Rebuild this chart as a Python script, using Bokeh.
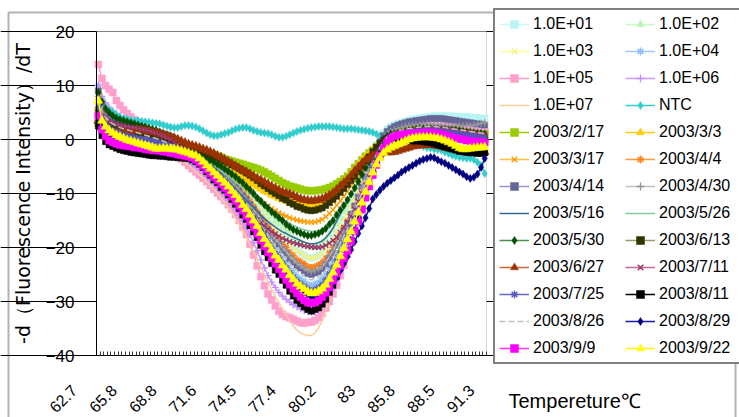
import math
from bokeh.plotting import figure
from bokeh.models import (ColumnDataSource, Legend, LegendItem, FixedTicker, LinearAxis,
                          Label, BoxAnnotation, Range1d)
from bokeh.embed import file_html
from bokeh.resources import INLINE

# ---------------- data ----------------
tick_labels = ["62.7", "65.8", "68.8", "71.6", "74.5", "77.4", "80.2", "83", "85.8", "88.5", "91.3"]
y_ticks = [-40, -30, -20, -10, 0, 10, 20]

e01 = [9.0, 7.2, 6.0, 5.2, 4.6, 4.1, 3.7, 3.4, 3.1, 2.9,
       2.7, 2.5, 2.3, 2.1, 1.9, 1.7, 1.4, 1.1, 0.8, 0.5,
       0.1, -0.3, -0.7, -1.1, -1.5, -1.9, -2.1, -2.3, -2.7, -3.1,
       -3.7, -4.1, -4.7, -5.1, -5.7, -6.1, -6.7, -7.3, -7.9, -8.5,
       -9.3, -9.9, -10.7, -11.5, -12.4, -13.4, -14.2, -15.0, -15.8, -16.6,
       -17.2, -18.0, -18.6, -19.4, -20.0, -20.6, -21.0, -21.4, -21.8, -22.0,
       -21.8, -21.5, -21.0, -20.3, -19.3, -18.3, -17.1, -15.9, -14.7, -13.4,
       -12.0, -10.5, -9.0, -7.3, -5.6, -4.1, -2.4, -0.9, 0.3, 1.3,
       2.0, 2.5, 2.8, 3.0, 3.2, 3.4, 3.6, 3.8, 3.9, 4.0,
       4.1, 4.2, 4.3, 4.4, 4.4, 4.4, 4.4, 4.4, 4.4, 4.3,
       4.3, 4.3, 4.2, 4.2, 4.1, 4.1, 4.0, 4.0]
e02 = [9.5, 7.5, 6.2, 5.3, 4.7, 4.2, 3.8, 3.5, 3.2, 3.0,
       2.8, 2.6, 2.4, 2.2, 2.0, 1.8, 1.5, 1.2, 0.9, 0.6,
       0.3, -0.1, -0.5, -0.9, -1.3, -1.7, -1.9, -2.1, -2.4, -2.8,
       -3.3, -3.7, -4.3, -4.6, -5.2, -5.5, -6.1, -6.6, -7.2, -7.7,
       -8.5, -9.0, -9.8, -10.5, -11.2, -12.1, -12.9, -13.6, -14.3, -15.1,
       -15.6, -16.3, -16.9, -17.6, -18.2, -18.7, -19.1, -19.5, -19.8, -20.0,
       -19.8, -19.6, -19.1, -18.5, -17.6, -16.7, -15.6, -14.5, -13.4, -12.3,
       -11.0, -9.7, -8.3, -6.8, -5.3, -3.9, -2.4, -1.1, 0.0, 0.9,
       1.6, 2.0, 2.3, 2.5, 2.7, 2.8, 2.9, 3.0, 3.1, 3.2,
       3.2, 3.3, 3.3, 3.3, 3.3, 3.2, 3.2, 3.1, 3.0, 2.9,
       2.8, 2.7, 2.6, 2.5, 2.4, 2.3, 2.2, 2.1]
e03 = [9.0, 7.0, 5.8, 5.0, 4.4, 3.9, 3.5, 3.2, 2.9, 2.7,
       2.5, 2.3, 2.1, 1.9, 1.7, 1.4, 1.1, 0.8, 0.5, 0.2,
       -0.2, -0.6, -1.0, -1.4, -1.8, -2.2, -2.4, -2.6, -3.0, -3.4,
       -4.0, -4.4, -5.0, -5.4, -6.0, -6.4, -7.0, -7.5, -8.1, -8.7,
       -9.5, -10.1, -10.9, -11.7, -12.5, -13.5, -14.3, -15.1, -15.9, -16.7,
       -17.2, -18.0, -18.6, -19.4, -20.0, -20.6, -21.0, -21.4, -21.8, -22.0,
       -21.8, -21.5, -21.1, -20.4, -19.4, -18.5, -17.3, -16.1, -15.0, -13.8,
       -12.4, -11.0, -9.5, -7.9, -6.3, -4.8, -3.2, -1.8, -0.6, 0.3,
       1.0, 1.5, 1.8, 2.0, 2.2, 2.3, 2.4, 2.5, 2.6, 2.6,
       2.7, 2.7, 2.7, 2.7, 2.6, 2.6, 2.5, 2.4, 2.3, 2.2,
       2.1, 2.0, 1.9, 1.8, 1.7, 1.6, 1.5, 1.4]
e04 = [10.0, 7.6, 6.2, 5.3, 4.6, 4.1, 3.7, 3.3, 3.0, 2.7,
       2.4, 2.1, 1.8, 1.5, 1.2, 0.9, 0.6, 0.3, 0.0, -0.4,
       -0.8, -1.2, -1.6, -2.0, -2.4, -2.8, -3.0, -3.3, -3.8, -4.3,
       -5.0, -5.5, -6.2, -6.7, -7.4, -7.9, -8.6, -9.3, -10.1, -10.8,
       -11.8, -12.5, -13.4, -14.4, -15.4, -16.6, -17.6, -18.5, -19.5, -20.5,
       -21.2, -22.2, -22.9, -23.9, -24.6, -25.3, -25.8, -26.3, -26.8, -27.0,
       -26.7, -26.4, -25.8, -25.0, -23.8, -22.7, -21.2, -19.8, -18.3, -16.9,
       -15.1, -13.4, -11.6, -9.6, -7.6, -5.8, -3.8, -2.1, -0.6, 0.6,
       1.4, 2.0, 2.3, 2.5, 2.7, 2.9, 3.0, 3.1, 3.2, 3.3,
       3.3, 3.4, 3.4, 3.4, 3.3, 3.3, 3.2, 3.2, 3.1, 3.0,
       3.0, 2.9, 2.9, 2.8, 2.8, 2.7, 2.7, 2.6]
e05 = [13.9, 11.3, 10.0, 9.3, 8.7, 7.2, 6.3, 5.5, 4.8, 4.2,
       3.6, 3.1, 2.6, 2.1, 1.6, 1.1, 0.6, 0.0, -0.6, -1.2,
       -1.8, -2.4, -3.0, -3.6, -4.2, -4.8, -5.4, -6.0, -6.6, -7.2,
       -7.8, -8.5, -9.2, -9.9, -10.6, -11.3, -12.1, -12.9, -13.9, -15.0,
       -16.2, -17.6, -19.4, -21.4, -23.4, -25.4, -27.1, -28.6, -29.7, -30.8,
       -31.8, -32.4, -32.8, -33.0, -33.3, -33.6, -33.9, -34.0, -33.9, -33.8,
       -33.5, -33.0, -32.2, -31.2, -30.0, -28.6, -27.0, -25.2, -23.3, -21.3,
       -19.2, -17.0, -14.7, -12.4, -10.1, -7.9, -5.8, -3.9, -2.2, -0.8,
       0.3, 1.1, 1.7, 2.1, 2.4, 2.6, 2.8, 2.9, 3.0, 3.0,
       3.0, 3.0, 3.0, 2.9, 2.8, 2.7, 2.6, 2.5, 2.4, 2.3,
       2.2, 2.1, 2.0, 1.9, 1.8, 1.7, 1.6, 1.5]
e06 = [10.0, 8.0, 6.8, 6.0, 5.3, 4.8, 4.3, 3.9, 3.5, 3.1,
       2.7, 2.3, 1.9, 1.5, 1.1, 0.7, 0.3, -0.1, -0.6, -1.1,
       -1.6, -2.1, -2.6, -3.1, -3.6, -4.1, -4.6, -5.1, -5.7, -6.3,
       -6.9, -7.5, -8.2, -8.9, -9.6, -10.4, -11.2, -12.1, -13.0, -14.0,
       -15.1, -16.3, -17.6, -19.1, -20.6, -22.3, -23.8, -25.2, -26.4, -27.4,
       -28.3, -29.0, -29.6, -30.1, -30.6, -31.0, -31.4, -31.7, -31.9, -32.0,
       -31.9, -31.6, -31.0, -30.1, -29.0, -27.7, -26.2, -24.5, -22.7, -20.8,
       -18.8, -16.7, -14.5, -12.3, -10.1, -8.0, -6.0, -4.2, -2.6, -1.2,
       -0.1, 0.8, 1.4, 1.8, 2.1, 2.3, 2.5, 2.6, 2.7, 2.8,
       2.8, 2.8, 2.8, 2.8, 2.7, 2.7, 2.6, 2.5, 2.4, 2.3,
       2.2, 2.1, 2.0, 1.9, 1.8, 1.7, 1.6, 1.5]
e07 = [9.0, 7.2, 6.1, 5.3, 4.7, 4.2, 3.7, 3.3, 2.9, 2.5,
       2.1, 1.7, 1.3, 0.9, 0.5, 0.1, -0.3, -0.8, -1.3, -1.8,
       -2.3, -2.8, -3.3, -3.8, -4.3, -4.8, -5.3, -5.9, -6.5, -7.1,
       -7.8, -8.5, -9.2, -10.0, -10.8, -11.7, -12.6, -13.6, -14.6, -15.7,
       -16.9, -18.1, -19.4, -20.8, -22.2, -23.6, -25.0, -26.4, -27.7, -29.0,
       -30.2, -31.4, -32.5, -33.6, -34.6, -35.3, -35.8, -36.1, -36.3, -36.3,
       -35.8, -34.9, -33.6, -31.6, -29.4, -27.0, -24.5, -21.9, -19.3, -16.7,
       -14.2, -11.8, -9.6, -7.6, -5.8, -4.2, -2.8, -1.6, -0.6, 0.2,
       0.8, 1.2, 1.5, 1.7, 1.8, 1.9, 2.0, 2.0, 2.0, 2.0,
       2.0, 2.0, 1.9, 1.9, 1.8, 1.8, 1.7, 1.6, 1.5, 1.4,
       1.3, 1.2, 1.1, 1.0, 0.9, 0.8, 0.7, 0.6]
ntc = [7.0, 6.4, 5.9, 5.5, 5.1, 4.6, 4.2, 3.9, 3.8, 3.6,
       3.5, 3.5, 3.4, 3.3, 3.2, 3.1, 3.0, 2.9, 2.7, 2.5,
       2.3, 2.2, 2.2, 2.4, 2.6, 2.6, 2.5, 2.3, 2.0, 1.6,
       1.2, 0.9, 0.7, 0.7, 0.9, 1.1, 1.3, 1.6, 1.9, 2.1,
       2.2, 2.2, 2.0, 1.7, 1.5, 1.3, 1.2, 1.1, 0.9, 0.6,
       0.4, 0.4, 0.6, 0.9, 1.2, 1.5, 1.7, 1.9, 2.1, 2.2,
       2.3, 2.4, 2.4, 2.4, 2.4, 2.3, 2.2, 2.1, 2.0, 2.0,
       2.0, 1.9, 1.8, 1.7, 1.6, 1.5, 1.3, 1.0, 0.7, 0.6,
       0.8, 1.1, 1.0, 0.8, 0.5, 0.2, -0.1, -0.4, -0.7, -1.0,
       -1.3, -1.5, -1.6, -1.8, -1.9, -2.0, -2.3, -2.6, -2.9, -3.1,
       -3.3, -3.4, -3.5, -3.5, -3.7, -4.2, -4.8, -6.3]
d0217 = [3.0, 2.2, 1.7, 1.4, 1.2, 1.1, 1.0, 0.9, 0.9, 0.8,
         0.8, 0.7, 0.6, 0.5, 0.4, 0.3, 0.2, 0.1, -0.1, -0.2,
         -0.4, -0.6, -0.8, -1.0, -1.2, -1.4, -1.6, -1.8, -2.0, -2.2,
         -2.4, -2.6, -2.8, -3.1, -3.3, -3.6, -3.8, -4.0, -4.2, -4.4,
         -4.6, -4.8, -5.0, -5.2, -5.4, -5.7, -6.0, -6.4, -6.8, -7.2,
         -7.6, -8.0, -8.3, -8.6, -8.8, -9.0, -9.2, -9.4, -9.5, -9.5,
         -9.5, -9.4, -9.3, -9.1, -8.9, -8.6, -8.2, -7.8, -7.3, -6.8,
         -6.0, -5.2, -4.5, -3.8, -3.1, -2.5, -2.0, -1.4, -0.9, -0.4,
         0.0, 0.4, 0.7, 1.0, 1.2, 1.4, 1.5, 1.6, 1.7, 1.8,
         1.9, 1.9, 2.0, 2.0, 2.0, 1.9, 1.9, 1.8, 1.7, 1.6,
         1.5, 1.4, 1.3, 1.2, 1.1, 1.1, 1.0, 1.0]
d0303 = [6.0, 4.3, 3.4, 2.8, 2.5, 2.3, 2.1, 2.0, 1.9, 1.8,
         1.7, 1.6, 1.5, 1.4, 1.3, 1.1, 0.9, 0.7, 0.5, 0.2,
         -0.1, -0.4, -0.7, -1.0, -1.3, -1.6, -1.9, -2.2, -2.5, -2.8,
         -3.2, -3.5, -3.9, -4.3, -4.7, -5.1, -5.5, -5.9, -6.3, -6.7,
         -7.1, -7.5, -7.9, -8.3, -8.7, -9.1, -9.5, -9.8, -10.2, -10.5,
         -10.8, -11.1, -11.3, -11.5, -11.7, -11.9, -12.0, -12.1, -12.1, -12.1,
         -12.0, -11.8, -11.5, -11.1, -10.6, -10.0, -9.4, -8.7, -8.0, -7.2,
         -6.4, -5.6, -4.8, -4.0, -3.3, -2.6, -2.0, -1.4, -0.9, -0.5,
         -0.1, 0.2, 0.5, 0.7, 0.9, 1.0, 1.1, 1.2, 1.3, 1.3,
         1.4, 1.4, 1.4, 1.3, 1.3, 1.2, 1.1, 1.0, 0.9, 0.8,
         0.7, 0.6, 0.5, 0.4, 0.3, 0.2, 0.1, 0.0]
d0317 = [7.0, 5.0, 4.0, 3.4, 3.0, 2.7, 2.5, 2.3, 2.2, 2.1,
         2.0, 1.9, 1.8, 1.7, 1.5, 1.3, 1.1, 0.9, 0.6, 0.3,
         0.0, -0.3, -0.7, -1.0, -1.4, -1.8, -2.2, -2.6, -3.0, -3.5,
         -3.9, -4.4, -4.9, -5.4, -5.9, -6.4, -6.9, -7.4, -7.9, -8.4,
         -8.9, -9.4, -9.9, -10.4, -10.9, -11.4, -11.9, -12.3, -12.8, -13.2,
         -13.6, -13.9, -14.2, -14.5, -14.7, -14.9, -15.1, -15.2, -15.3, -15.3,
         -15.3, -15.1, -14.8, -14.3, -13.7, -13.0, -12.2, -11.4, -10.5, -9.6,
         -8.6, -7.6, -6.6, -5.6, -4.6, -3.7, -2.8, -2.0, -1.3, -0.7,
         -0.2, 0.2, 0.6, 0.9, 1.1, 1.3, 1.4, 1.5, 1.6, 1.7,
         1.8, 1.8, 1.8, 1.8, 1.7, 1.7, 1.6, 1.5, 1.4, 1.3,
         1.2, 1.1, 1.0, 0.9, 0.8, 0.7, 0.6, 0.5]
d0404 = [8.0, 5.6, 4.4, 3.6, 3.1, 2.7, 2.4, 2.1, 1.9, 1.7,
         1.5, 1.3, 1.1, 0.9, 0.7, 0.5, 0.3, 0.1, -0.1, -0.4,
         -0.7, -1.0, -1.3, -1.5, -1.8, -2.0, -2.2, -2.4, -2.9, -3.3,
         -4.0, -4.4, -5.0, -5.5, -6.1, -6.6, -7.2, -7.9, -8.5, -9.2,
         -10.0, -10.7, -11.5, -12.4, -13.3, -14.4, -15.2, -16.1, -17.0, -17.8,
         -18.5, -19.4, -20.0, -20.9, -21.5, -22.2, -22.6, -23.0, -23.5, -23.7,
         -23.5, -23.2, -22.7, -22.0, -21.0, -20.0, -18.8, -17.6, -16.4, -15.1,
         -13.7, -12.2, -10.7, -9.0, -7.3, -5.8, -4.1, -2.6, -1.4, -0.4,
         0.3, 0.8, 1.1, 1.4, 1.6, 1.8, 1.9, 2.0, 2.1, 2.2,
         2.3, 2.3, 2.3, 2.3, 2.2, 2.2, 2.1, 2.0, 1.9, 1.8,
         1.7, 1.6, 1.5, 1.4, 1.3, 1.2, 1.1, 1.0]
d0414 = [9.0, 6.5, 5.1, 4.3, 3.7, 3.3, 3.0, 2.7, 2.5, 2.3,
         2.1, 1.9, 1.7, 1.5, 1.3, 1.1, 0.9, 0.6, 0.3, 0.0,
         -0.3, -0.6, -0.9, -1.2, -1.5, -1.8, -2.0, -2.3, -2.7, -3.2,
         -3.9, -4.4, -5.0, -5.5, -6.2, -6.7, -7.4, -8.1, -8.8, -9.5,
         -10.4, -11.1, -12.0, -12.9, -13.9, -15.0, -16.0, -16.9, -17.8, -18.7,
         -19.4, -20.4, -21.1, -22.0, -22.7, -23.4, -23.8, -24.3, -24.8, -25.0,
         -24.7, -24.5, -23.9, -23.1, -22.0, -21.0, -19.6, -18.3, -16.9, -15.6,
         -13.9, -12.3, -10.7, -8.8, -6.9, -5.3, -3.4, -1.8, -0.4, 0.7,
         1.5, 2.0, 2.4, 2.7, 2.9, 3.1, 3.3, 3.4, 3.5, 3.6,
         3.7, 3.8, 3.9, 3.9, 3.9, 3.9, 3.8, 3.7, 3.6, 3.5,
         3.4, 3.3, 3.2, 3.1, 3.0, 2.9, 2.8, 2.7]
d0430 = [8.5, 6.0, 4.7, 3.9, 3.4, 3.0, 2.7, 2.4, 2.2, 2.0,
         1.8, 1.6, 1.4, 1.2, 1.0, 0.8, 0.6, 0.3, 0.0, -0.3,
         -0.6, -0.9, -1.2, -1.5, -1.8, -2.1, -2.3, -2.5, -3.0, -3.4,
         -4.1, -4.6, -5.2, -5.7, -6.4, -6.8, -7.5, -8.1, -8.8, -9.5,
         -10.4, -11.1, -12.0, -12.9, -13.7, -14.9, -15.8, -16.7, -17.6, -18.5,
         -19.1, -20.0, -20.7, -21.6, -22.3, -22.9, -23.4, -23.8, -24.3, -24.5,
         -24.2, -24.0, -23.5, -22.7, -21.6, -20.6, -19.3, -18.0, -16.7, -15.4,
         -13.8, -12.3, -10.7, -8.9, -7.1, -5.5, -3.7, -2.1, -0.8, 0.2,
         1.0, 1.5, 1.8, 2.0, 2.2, 2.4, 2.5, 2.6, 2.7, 2.7,
         2.8, 2.8, 2.8, 2.7, 2.7, 2.6, 2.6, 2.5, 2.5, 2.5,
         2.5, 2.5, 2.6, 2.6, 2.7, 2.8, 3.0, 3.1]
d0516 = [7.0, 5.4, 4.5, 3.9, 3.5, 3.2, 3.0, 2.8, 2.7, 2.6,
         2.5, 2.4, 2.3, 2.2, 2.1, 2.0, 1.9, 1.8, 1.6, 1.4,
         1.2, 0.8, 0.4, 0.0, -0.4, -0.9, -1.4, -1.9, -2.5, -3.1,
         -3.7, -4.3, -5.0, -5.6, -6.3, -7.0, -7.7, -8.4, -9.1, -9.8,
         -10.5, -11.2, -11.9, -12.6, -13.3, -14.0, -14.6, -15.2, -15.7, -16.2,
         -16.7, -17.1, -17.4, -17.8, -18.1, -18.4, -18.7, -19.0, -19.2, -19.3,
         -19.3, -19.1, -18.8, -18.2, -17.4, -16.4, -15.1, -13.8, -12.6, -11.4,
         -10.2, -9.0, -7.8, -6.6, -5.4, -4.3, -3.3, -2.4, -1.6, -0.9,
         -0.3, 0.2, 0.6, 0.9, 1.1, 1.3, 1.4, 1.5, 1.6, 1.7,
         1.7, 1.8, 1.8, 1.8, 1.7, 1.7, 1.6, 1.5, 1.4, 1.3,
         1.2, 1.1, 1.0, 0.9, 0.8, 0.7, 0.6, 0.5]
d0526 = [6.5, 5.0, 4.1, 3.6, 3.2, 2.9, 2.7, 2.5, 2.4, 2.3,
         2.2, 2.1, 2.0, 1.9, 1.7, 1.5, 1.3, 1.1, 0.8, 0.5,
         0.2, -0.2, -0.5, -0.9, -1.3, -1.7, -2.1, -2.5, -2.9, -3.4,
         -3.8, -4.3, -4.8, -5.3, -5.8, -6.3, -6.8, -7.3, -7.9, -8.4,
         -9.0, -9.5, -10.1, -10.6, -11.2, -11.8, -12.3, -12.8, -13.3, -13.8,
         -14.3, -14.7, -15.1, -15.5, -15.9, -16.2, -16.5, -16.7, -16.9, -17.0,
         -17.0, -16.9, -16.6, -16.1, -15.5, -14.8, -14.0, -13.1, -12.2, -11.2,
         -10.1, -9.0, -7.8, -6.6, -5.4, -4.2, -3.1, -2.1, -1.2, -0.5,
         0.1, 0.6, 1.0, 1.3, 1.5, 1.7, 1.8, 1.9, 2.0, 2.1,
         2.2, 2.2, 2.3, 2.3, 2.3, 2.2, 2.2, 2.1, 2.0, 1.9,
         1.8, 1.7, 1.6, 1.5, 1.4, 1.3, 1.2, 1.1]
d0530 = [8.7, 7.0, 5.7, 5.0, 4.4, 4.0, 3.7, 3.5, 3.3, 3.1,
         2.9, 2.7, 2.5, 2.3, 2.1, 1.9, 1.7, 1.4, 1.1, 0.8,
         0.4, 0.1, -0.2, -0.6, -1.0, -1.5, -1.8, -2.2, -2.5, -3.0,
         -3.3, -3.8, -4.1, -4.6, -4.9, -5.4, -5.9, -6.4, -6.9, -7.5,
         -8.0, -8.7, -9.3, -10.0, -10.8, -11.4, -12.1, -12.7, -13.4, -13.9,
         -14.5, -15.0, -15.7, -16.2, -16.7, -17.0, -17.3, -17.6, -17.8, -17.8,
         -17.6, -17.4, -17.0, -16.5, -15.7, -15.0, -14.0, -13.1, -12.2, -11.2,
         -10.1, -9.0, -7.8, -6.5, -5.2, -4.1, -2.8, -1.6, -0.7, 0.1,
         0.6, 1.0, 1.1, 1.2, 1.3, 1.5, 1.6, 1.8, 1.9, 2.0,
         2.0, 2.0, 2.0, 1.9, 1.9, 1.8, 1.8, 1.7, 1.7, 1.7,
         1.6, 1.5, 1.4, 1.3, 1.2, 1.1, 1.1, 1.0]
d0613 = [5.0, 3.6, 2.8, 2.4, 2.1, 1.9, 1.7, 1.6, 1.5, 1.4,
         1.3, 1.2, 1.1, 1.0, 0.9, 0.7, 0.6, 0.4, 0.2, 0.0,
         -0.2, -0.5, -0.8, -1.0, -1.3, -1.5, -1.6, -1.7, -2.0, -2.2,
         -2.6, -2.8, -3.1, -3.4, -3.7, -4.0, -4.3, -4.7, -5.0, -5.4,
         -5.8, -6.2, -6.6, -7.1, -7.6, -8.2, -8.6, -9.1, -9.6, -10.0,
         -10.4, -10.9, -11.2, -11.7, -12.0, -12.4, -12.6, -12.9, -13.1, -13.2,
         -13.1, -12.9, -12.7, -12.2, -11.7, -11.1, -10.5, -9.8, -9.1, -8.4,
         -7.6, -6.8, -5.9, -5.0, -4.0, -3.2, -2.2, -1.4, -0.7, -0.2,
         0.2, 0.5, 0.7, 0.8, 0.9, 1.0, 1.1, 1.2, 1.3, 1.3,
         1.4, 1.4, 1.4, 1.3, 1.3, 1.2, 1.1, 1.0, 0.9, 0.8,
         0.7, 0.6, 0.5, 0.4, 0.3, 0.3, 0.2, 0.2]
d0627 = [3.5, 2.2, 1.3, 1.1, 1.2, 1.3, 1.4, 1.5, 1.6, 1.6,
         1.7, 1.7, 1.7, 1.6, 1.5, 1.4, 1.3, 1.1, 0.9, 0.7,
         0.5, 0.3, 0.0, -0.3, -0.6, -0.9, -1.1, -1.3, -1.5, -1.8,
         -2.0, -2.3, -2.6, -3.0, -3.3, -3.7, -4.1, -4.5, -4.9, -5.3,
         -5.7, -6.0, -6.4, -6.8, -7.2, -7.5, -7.9, -8.3, -8.7, -9.0,
         -9.4, -9.7, -9.9, -10.1, -10.4, -10.7, -11.0, -11.2, -11.3, -11.4,
         -11.3, -11.2, -11.0, -10.7, -10.3, -9.9, -9.3, -8.6, -8.0, -7.4,
         -6.6, -5.8, -5.1, -4.4, -3.8, -3.4, -3.0, -2.8, -2.6, -2.5,
         -2.4, -2.4, -2.3, -2.1, -1.9, -1.7, -1.5, -1.3, -1.2, -1.1,
         -1.1, -1.0, -1.0, -1.1, -1.2, -1.3, -1.5, -1.6, -1.7, -1.8,
         -1.9, -2.0, -2.0, -2.1, -2.1, -2.2, -2.2, -2.3]
d0711 = [7.0, 5.2, 4.2, 3.6, 3.2, 2.9, 2.7, 2.5, 2.4, 2.3,
         2.2, 2.1, 1.9, 1.8, 1.6, 1.4, 1.2, 0.9, 0.6, 0.3,
         0.0, -0.5, -1.0, -1.5, -2.0, -2.6, -3.1, -3.7, -4.2, -4.8,
         -5.4, -6.0, -6.6, -7.3, -7.9, -8.6, -9.2, -9.9, -10.6, -11.4,
         -12.2, -13.0, -13.7, -14.3, -14.9, -15.5, -16.0, -16.6, -17.1, -17.5,
         -17.9, -18.3, -18.6, -18.9, -19.1, -19.3, -19.5, -19.7, -19.8, -19.9,
         -20.0, -20.0, -19.9, -19.6, -19.2, -18.7, -18.1, -17.2, -16.3, -15.3,
         -14.2, -12.9, -11.5, -10.0, -8.4, -6.9, -5.4, -4.0, -2.8, -1.8,
         -1.0, -0.4, 0.1, 0.5, 0.8, 1.0, 1.2, 1.4, 1.6, 1.7,
         1.8, 1.9, 2.0, 2.0, 2.0, 2.0, 1.9, 1.9, 1.8, 1.7,
         1.6, 1.5, 1.4, 1.3, 1.2, 1.1, 1.0, 1.0]
d0725 = [6.0, 4.0, 2.9, 2.2, 1.7, 1.4, 1.1, 0.9, 0.7, 0.5,
         0.4, 0.2, 0.1, 0.0, -0.1, -0.3, -0.4, -0.6, -0.8, -1.0,
         -1.2, -1.4, -1.7, -1.9, -2.2, -2.5, -2.8, -3.0, -3.5, -4.0,
         -4.8, -5.3, -6.1, -6.6, -7.3, -7.9, -8.6, -9.4, -10.2, -10.9,
         -11.9, -12.7, -13.7, -14.7, -15.8, -17.0, -18.1, -19.1, -20.1, -21.1,
         -21.9, -22.9, -23.7, -24.7, -25.5, -26.2, -26.7, -27.2, -27.7, -28.0,
         -27.7, -27.4, -26.9, -26.0, -24.9, -23.7, -22.3, -20.9, -19.5, -18.0,
         -16.3, -14.6, -12.9, -10.9, -8.9, -7.2, -5.2, -3.5, -2.1, -0.9,
         -0.1, 0.5, 0.8, 1.0, 1.2, 1.3, 1.4, 1.5, 1.6, 1.6,
         1.7, 1.7, 1.7, 1.6, 1.6, 1.5, 1.4, 1.3, 1.2, 1.1,
         1.0, 0.9, 0.8, 0.7, 0.6, 0.5, 0.4, 0.3]
d0811 = [2.5, 0.7, -0.4, -1.0, -1.3, -1.6, -1.9, -2.1, -2.2, -2.4,
         -2.5, -2.6, -2.7, -2.8, -2.9, -3.0, -3.0, -3.1, -3.1, -3.2,
         -3.3, -3.3, -3.4, -3.4, -3.5, -3.5, -3.8, -4.1, -4.6, -5.2,
         -6.0, -6.6, -7.5, -8.0, -8.9, -9.4, -10.3, -11.1, -12.0, -12.8,
         -14.0, -14.8, -16.0, -17.1, -18.2, -19.6, -20.8, -21.9, -23.0, -24.2,
         -25.0, -26.1, -27.0, -28.1, -29.0, -29.8, -30.4, -31.0, -31.5, -31.8,
         -31.5, -31.2, -30.5, -29.6, -28.3, -27.0, -25.4, -23.8, -22.2, -20.6,
         -18.7, -16.8, -14.8, -12.6, -10.4, -8.4, -6.2, -4.3, -2.7, -1.4,
         -0.4, 0.2, 0.2, 0.1, 0.0, -0.1, -0.2, -0.3, -0.3, -0.3,
         -0.4, -0.5, -0.6, -0.8, -1.0, -1.2, -1.4, -1.6, -1.8, -2.0,
         -2.2, -2.3, -2.4, -2.5, -2.5, -2.6, -2.6, -2.5]
d0826 = [7.5, 5.3, 4.1, 3.4, 2.9, 2.5, 2.2, 2.0, 1.8, 1.6,
         1.4, 1.2, 1.0, 0.8, 0.6, 0.4, 0.2, 0.0, -0.3, -0.6,
         -0.9, -1.2, -1.5, -1.8, -2.1, -2.4, -2.6, -2.9, -3.3, -3.8,
         -4.5, -5.0, -5.7, -6.2, -6.9, -7.4, -8.1, -8.8, -9.5, -10.2,
         -11.1, -11.8, -12.8, -13.7, -14.7, -15.9, -16.8, -17.7, -18.7, -19.6,
         -20.3, -21.3, -22.0, -22.9, -23.6, -24.3, -24.8, -25.3, -25.8, -26.0,
         -25.7, -25.5, -24.9, -24.1, -23.0, -22.0, -20.6, -19.3, -17.9, -16.6,
         -14.9, -13.3, -11.7, -9.8, -7.9, -6.3, -4.4, -2.8, -1.4, -0.4,
         0.5, 1.0, 1.3, 1.5, 1.7, 1.9, 2.0, 2.1, 2.2, 2.3,
         2.3, 2.4, 2.4, 2.4, 2.3, 2.3, 2.2, 2.1, 2.0, 1.9,
         1.8, 1.7, 1.6, 1.5, 1.4, 1.3, 1.2, 1.1]
d0829 = [3.5, 2.0, 1.0, 0.4, -0.1, -0.5, -0.9, -1.1, -1.2, -1.3,
         -1.4, -1.4, -1.5, -1.5, -1.5, -1.5, -1.5, -1.6, -1.7, -1.9,
         -2.0, -2.2, -2.4, -2.6, -2.8, -3.0, -3.0, -3.3, -3.5, -4.1,
         -4.6, -5.4, -5.9, -6.7, -7.2, -8.0, -8.6, -9.4, -10.2, -11.0,
         -11.7, -12.8, -13.6, -14.7, -15.7, -16.8, -18.1, -19.2, -20.2, -21.3,
         -22.3, -23.1, -24.2, -25.0, -26.1, -26.9, -27.6, -28.2, -28.7, -29.2,
         -29.5, -29.2, -29.0, -28.5, -27.7, -26.6, -25.6, -24.3, -23.0, -21.7,
         -20.4, -18.9, -17.4, -16.0, -14.5, -12.8, -11.0, -10.2, -9.4, -8.7,
         -8.1, -7.6, -7.1, -6.6, -6.0, -5.6, -5.2, -4.8, -4.4, -4.0,
         -3.7, -3.5, -3.3, -3.4, -3.8, -4.1, -4.4, -4.8, -5.2, -5.6,
         -6.0, -6.4, -6.9, -7.2, -7.0, -6.4, -5.2, -3.5]
d0909 = [4.4, 1.8, 0.6, -0.2, -0.5, -0.8, -1.0, -1.1, -1.2, -1.3,
         -1.5, -1.5, -1.6, -1.8, -1.9, -2.0, -2.0, -2.1, -2.2, -2.3,
         -2.5, -2.6, -2.8, -2.9, -3.0, -3.2, -3.4, -3.8, -4.3, -4.9,
         -5.6, -6.3, -7.0, -7.6, -8.3, -9.0, -9.8, -10.6, -11.4, -12.3,
         -13.2, -14.2, -15.2, -16.3, -17.5, -18.7, -19.8, -20.9, -22.0, -23.0,
         -24.0, -25.0, -26.0, -26.9, -27.7, -28.5, -29.2, -29.8, -30.2, -30.3,
         -30.2, -29.8, -29.2, -28.4, -27.4, -26.1, -24.8, -23.4, -22.0, -20.6,
         -18.8, -17.0, -15.2, -13.0, -10.8, -8.7, -6.6, -4.7, -3.0, -1.6,
         -0.5, 0.2, 0.6, 0.8, 0.9, 1.0, 1.1, 1.1, 1.2, 1.2,
         1.3, 1.3, 1.3, 1.2, 1.1, 1.0, 0.8, 0.6, 0.4, 0.2,
         0.1, 0.0, -0.2, -0.3, -0.4, -0.4, -0.5, -0.6]
d0922 = [7.2, 3.5, 2.4, 1.7, 1.2, 0.8, 0.5, 0.2, -0.1, -0.3,
         -0.5, -0.7, -0.9, -1.1, -1.3, -1.5, -1.7, -1.7, -1.6, -1.7,
         -1.8, -1.8, -1.9, -2.1, -2.3, -2.5, -2.8, -3.0, -3.5, -4.1,
         -4.8, -5.4, -6.1, -6.7, -7.4, -8.0, -8.7, -9.5, -10.3, -11.1,
         -12.1, -12.9, -13.9, -15.0, -16.0, -17.3, -18.4, -19.4, -20.4, -21.5,
         -22.3, -23.3, -24.1, -25.1, -25.9, -26.7, -27.2, -27.7, -28.2, -28.5,
         -28.4, -28.1, -27.6, -26.9, -25.8, -24.6, -23.2, -21.6, -20.1, -18.5,
         -17.0, -15.2, -13.5, -11.7, -9.7, -7.9, -6.1, -4.6, -3.4, -2.5,
         -1.9, -1.5, -1.2, -0.9, -0.6, -0.3, 0.0, 0.2, 0.3, 0.4,
         0.4, 0.4, 0.4, 0.3, 0.2, 0.0, -0.2, -0.5, -0.8, -1.2,
         -1.6, -1.8, -1.8, -1.7, -1.6, -1.5, -1.5, -1.4]

series_names = ["1.0E+01", "1.0E+02", "1.0E+03", "1.0E+04", "1.0E+05", "1.0E+06",
                "1.0E+07", "NTC", "2003/2/17", "2003/3/3", "2003/3/17", "2003/4/4",
                "2003/4/14", "2003/4/30", "2003/5/16", "2003/5/26", "2003/5/30",
                "2003/6/13", "2003/6/27", "2003/7/11", "2003/7/25", "2003/8/11",
                "2003/8/26", "2003/8/29", "2003/9/9", "2003/9/22"]
series_values = [e01, e02, e03, e04, e05, e06, e07, ntc, d0217, d0303, d0317, d0404,
                 d0414, d0430, d0516, d0526, d0530, d0613, d0627, d0711, d0725, d0811,
                 d0826, d0829, d0909, d0922]

# style: line color, line dash, marker, marker size, marker color
styles = [
    ("#C4FAFA", "solid", "square", 6, "#B8F4F4"),
    ("#C8F8C8", "solid", "triangle", 8, "#BDF5BD"),
    ("#FFFF99", "solid", "x", 7, "#F5F080"),
    ("#99CCFF", "solid", "asterisk", 7, "#8FC0F8"),
    ("#FF99CC", "solid", "square", 7, "#FFA0CC"),
    ("#CC99FF", "solid", "cross", 7, "#C090FF"),
    ("#FFCC99", "solid", None, 0, None),
    ("#33CCCC", "solid", "diamond", 8, "#33CCCC"),
    ("#99CC00", "solid", "square", 7, "#99CC00"),
    ("#FFCC00", "solid", "triangle", 9, "#FFCC00"),
    ("#FFBF40", "solid", "x", 7, "#FF9900"),
    ("#FF9933", "solid", "asterisk", 7, "#FF7F1A"),
    ("#9999CC", "solid", "square", 6, "#666699"),
    ("#C0C0C0", "solid", "cross", 7, "#969696"),
    ("#336699", "solid", None, 0, None),
    ("#80CCA0", "solid", None, 0, None),
    ("#4D8F4D", "solid", "diamond", 8, "#004D00"),
    ("#999966", "solid", "square", 6, "#333300"),
    ("#CC6633", "solid", "triangle", 9, "#993300"),
    ("#CC6699", "solid", "x", 7, "#993366"),
    ("#6666CC", "solid", "asterisk", 7, "#5555BB"),
    ("#000000", "solid", "square", 6, "#000000"),
    ("#C0C0C0", "6 3", None, 0, None),
    ("#1A1AAA", "solid", "diamond", 8, "#000080"),
    ("#FF33FF", "solid", "square", 7, "#FF00FF"),
    ("#FFFF00", "solid", "triangle", 9, "#FFFF00"),
]

# ---------------- layout geometry (pixels) ----------------
W, H = 739, 417
PA_L, PA_R, PA_T, PA_B = 96, 486, 31, 355      # plot area
N = 108
X0, X1 = -0.5, N - 0.5
Y0, Y1 = -40, 20
sx = (PA_R - PA_L) / (X1 - X0)
sy = (PA_B - PA_T) / (Y1 - Y0)
x_range = Range1d(X0 - PA_L / sx, X1 + (W - PA_R) / sx)
y_range = Range1d(Y0 - (H - PA_B) / sy, Y1 + PA_T / sy)

p = figure(width=W, height=H, output_backend="svg", toolbar_location=None, title=None,
           x_range=x_range, y_range=y_range,
           min_border_left=0, min_border_right=0, min_border_top=0, min_border_bottom=0)
p.background_fill_color = "white"
p.border_fill_color = "white"
p.outline_line_color = None

# plot-area box (grey frame of the plotting area)
area = BoxAnnotation(left=X0, right=X1, bottom=Y0, top=Y1, fill_color="white", fill_alpha=1.0,
                     line_color="#808080", line_width=1, level="underlay")
p.add_layout(area)

p.xgrid.visible = False
p.ygrid.grid_line_color = "#000000"
p.ygrid.grid_line_width = 1
p.ygrid.bounds = (X0, X1)
p.ygrid.level = "underlay"

# y axis
yl = {t: (("\u2212" + str(-t)) if t < 0 else str(t)) for t in y_ticks}
p.yaxis.ticker = FixedTicker(ticks=y_ticks)
p.yaxis.fixed_location = X0
p.yaxis.bounds = (Y0, Y1)
p.yaxis.major_label_overrides = yl
p.yaxis.major_tick_line_color = None
p.yaxis.minor_tick_line_color = None
p.yaxis.major_label_standoff = 16
p.yaxis.major_label_text_font = "Liberation Sans"
p.yaxis.major_label_text_font_size = "17px"
p.yaxis.major_label_text_color = "black"
p.yaxis.axis_line_color = "black"
p.yaxis.axis_label = "-d\uff08Fluorescence Intensity\uff09/dT"
p.yaxis.axis_label_text_font = "DejaVu Sans"
p.yaxis.axis_label_text_font_size = "19px"
p.yaxis.axis_label_text_font_style = "normal"
p.yaxis.axis_label_text_color = "black"
p.yaxis.axis_label_standoff = 9

# x axis: line + tick marks (one per category)
p.xaxis.ticker = FixedTicker(ticks=[], minor_ticks=[i - 0.5 for i in range(N + 1)])
p.xaxis.fixed_location = Y0
p.xaxis.bounds = (X0, X1)
p.xaxis.axis_line_color = "black"
p.xaxis.major_tick_line_color = None
p.xaxis.minor_tick_in = 4
p.xaxis.minor_tick_out = 0
p.xaxis.minor_tick_line_color = "#333333"

# x axis: category labels (every 11th category), drawn rotated as in the source chart
lab_pos = [11 * k - 6.7 for k in range(len(tick_labels))]
xlab_axis = LinearAxis(ticker=FixedTicker(ticks=lab_pos, minor_ticks=[]),
                       major_label_overrides={pos: t for pos, t in zip(lab_pos, tick_labels)},
                       fixed_location=Y0, axis_line_color=None,
                       major_tick_line_color=None, minor_tick_line_color=None,
                       major_label_orientation=math.pi / 4, major_label_standoff=26,
                       major_label_text_font="Liberation Sans",
                       major_label_text_font_size="16px", major_label_text_color="black")
p.add_layout(xlab_axis, "below")

# chart-area border
border = BoxAnnotation(left=8, right=735, top=H - 12, bottom=-20,
                       left_units="screen", right_units="screen",
                       top_units="screen", bottom_units="screen",
                       fill_alpha=0, line_color="black", line_width=2)
p.add_layout(border)

items = []
for name, vals, st in zip(series_names, series_values, styles):
    lc, dash, marker, msize, mcol = st
    src = ColumnDataSource(dict(x=list(range(len(vals))), y=vals))
    rs = [p.line("x", "y", source=src, line_color=lc, line_width=1.5, line_dash=dash)]
    if marker is not None:
        if marker in ("x", "cross", "asterisk"):
            rs.append(p.scatter("x", "y", source=src, marker=marker, size=msize,
                                line_color=mcol, line_width=1.3, fill_color=None))
        else:
            rs.append(p.scatter("x", "y", source=src, marker=marker, size=msize,
                                line_color=mcol, fill_color=mcol, line_width=0.5))
    items.append(LegendItem(label=name, renderers=rs))

xtitle = Label(x=508, y=H - 400, x_units="screen", y_units="screen", text="Tempereture\u2103",
               text_font="Liberation Sans", text_font_size="20px", text_baseline="middle",
               text_color="black")
p.add_layout(xtitle)

legend = Legend(items=items, location=(493, H - 364), orientation="horizontal", ncols=2,
                label_text_font="Liberation Sans", label_text_font_size="16px",
                label_text_color="black",
                glyph_width=30, glyph_height=20, label_height=20, label_width=85,
                label_standoff=4, spacing=7, padding=4, margin=0,
                border_line_color="black", border_line_width=2,
                background_fill_color="white", background_fill_alpha=1.0)
p.add_layout(legend, "center")

open("out.html", "w").write(file_html(p, INLINE))
